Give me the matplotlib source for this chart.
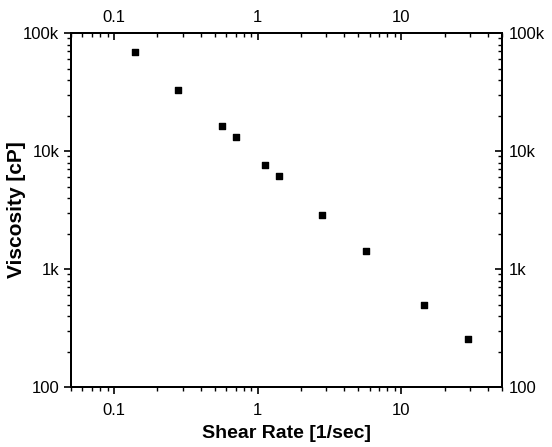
import numpy as np
import matplotlib.pyplot as plt
from matplotlib.ticker import LogLocator, FuncFormatter, NullFormatter

plt.rcParams['font.family'] = ['Liberation Sans', 'DejaVu Sans']

# Data
shear_rate = [0.14, 0.28, 0.56, 0.70, 1.12, 1.41, 2.82, 5.66, 14.4, 29.3]
viscosity = [69500, 32900, 16400, 13200, 7660, 6140, 2870, 1420, 495, 255]

x_ticks = [0.1, 1, 10]
x_labels = ['0.1', '1', '10']
y_ticks = [100, 1000, 10000, 100000]
y_labels = ['100', '1k', '10k', '100k']


def ylab(v, pos):
    return dict(zip(y_ticks, y_labels)).get(v, '')


def xlab(v, pos):
    return dict(zip(x_ticks, x_labels)).get(v, '')


def setup_log(axis):
    axis.set_major_locator(LogLocator(base=10, numticks=10))
    axis.set_minor_locator(LogLocator(base=10, subs=np.arange(2, 10), numticks=10))
    axis.set_minor_formatter(NullFormatter())


fig = plt.figure(figsize=(5.52, 4.47), dpi=100)
ax = fig.add_axes([0.1286, 0.134, 0.7804, 0.792])

ax.scatter(shear_rate, viscosity, marker='s', s=19, color='black', zorder=3)

ax.set_xscale('log')
ax.set_yscale('log')
ax.set_xlim(0.05, 50)
ax.set_ylim(100, 100000)
setup_log(ax.xaxis)
setup_log(ax.yaxis)
ax.xaxis.set_major_formatter(FuncFormatter(xlab))
ax.yaxis.set_major_formatter(FuncFormatter(ylab))
ax.tick_params(which='major', direction='out', length=5, width=1.2, labelsize=12)
ax.tick_params(which='minor', direction='out', length=3, width=1.0)
ax.tick_params(axis='x', which='major', pad=6.5)

ax.set_xlabel('Shear Rate [1/sec]', fontsize=14, fontweight='bold', labelpad=5)
ax.set_ylabel('Viscosity [cP]', fontsize=15, fontweight='bold')
ax.yaxis.set_label_coords(-0.104, 0.5)

# top axis
axt = ax.twiny()
axt.set_xscale('log')
axt.set_xlim(ax.get_xlim())
setup_log(axt.xaxis)
axt.xaxis.set_major_formatter(FuncFormatter(xlab))
axt.tick_params(which='major', direction='in', length=5, width=1.2, labelsize=12, pad=6)
axt.tick_params(which='minor', direction='in', length=3, width=1.0)

# right axis
axr = ax.twinx()
axr.set_yscale('log')
axr.set_ylim(ax.get_ylim())
setup_log(axr.yaxis)
axr.yaxis.set_major_formatter(FuncFormatter(ylab))
axr.tick_params(which='major', direction='in', length=5, width=1.2, labelsize=12, pad=5)
axr.tick_params(which='minor', direction='in', length=3, width=1.0)

for a in [ax, axt, axr]:
    for spine in a.spines.values():
        spine.set_linewidth(1.3)

plt.savefig('out.png', dpi=100)
